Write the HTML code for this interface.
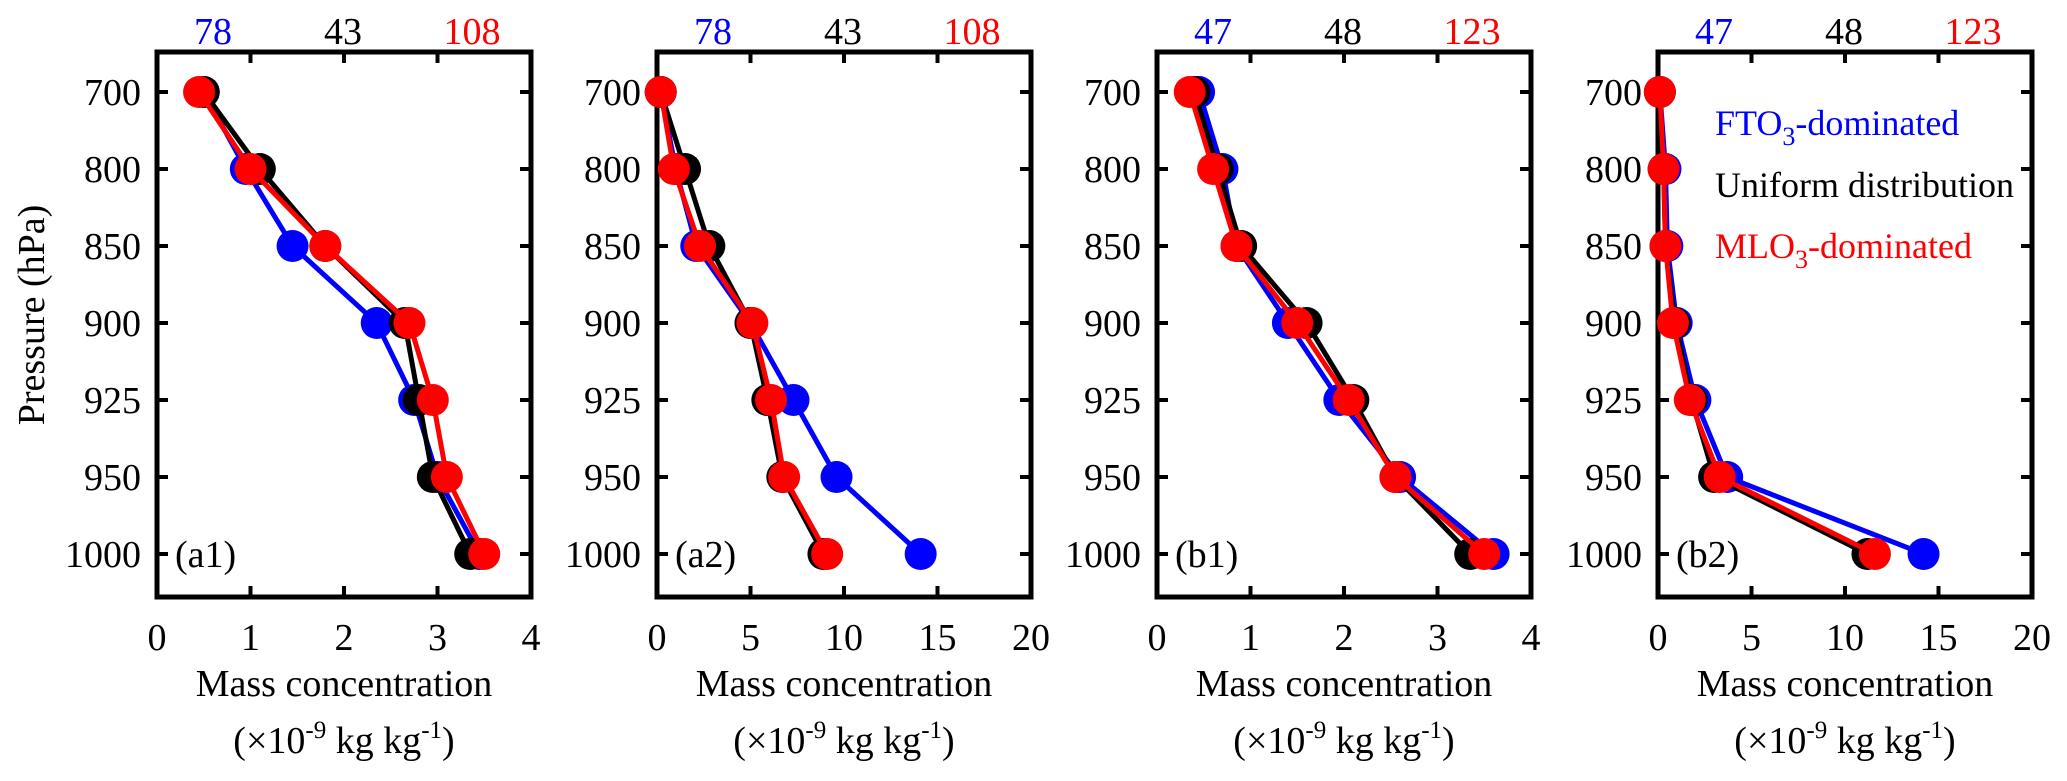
<!DOCTYPE html>
<html><head><meta charset="utf-8">
<style>
html,body{margin:0;padding:0;background:#fff;}
svg, svg text{font-family:"Liberation Serif","Noto Serif CJK SC","DejaVu Serif",serif !important;}
</style></head>
<body>
<svg id="chart" width="2067" height="776" viewBox="0 0 2067 776" xmlns="http://www.w3.org/2000/svg"></svg>
<script>
const pressureLevels = ["700","800","850","900","925","950","1000"];
const panelLabels = ["(a1)","(a2)","(b1)","(b2)"];
const panelXMax = [4,20,4,20];
const xTicksSmall = [0,1,2,3,4];
const xTicksLarge = [0,5,10,15,20];
const topLabelsA = ["78","43","108"];
const topLabelsB = ["47","48","123"];
const a1Blue  = [0.5,0.95,1.45,2.35,2.75,3.0,3.45];
const a1Black = [0.5,1.1,1.8,2.65,2.8,2.95,3.35];
const a1Red   = [0.45,1.0,1.8,2.7,2.95,3.1,3.5];
const a2Blue  = [0.2,1.0,2.1,5.0,7.3,9.6,14.1];
const a2Black = [0.2,1.5,2.8,5.0,5.9,6.7,8.9];
const a2Red   = [0.2,0.9,2.3,5.1,6.1,6.8,9.1];
const b1Blue  = [0.45,0.7,0.85,1.4,1.95,2.6,3.6];
const b1Black = [0.4,0.65,0.9,1.6,2.1,2.55,3.35];
const b1Red   = [0.35,0.6,0.85,1.5,2.05,2.55,3.5];
const b2Blue  = [0.1,0.4,0.5,1.0,2.0,3.7,14.2];
const b2Black = [0.1,0.3,0.4,0.9,1.8,3.0,11.2];
const b2Red   = [0.1,0.3,0.4,0.8,1.7,3.3,11.6];

const NS="http://www.w3.org/2000/svg";
const svg=document.getElementById('chart');
function mk(tag,attrs,parent){const e=document.createElementNS(NS,tag);for(const k in attrs)e.setAttribute(k,attrs[k]);(parent||svg).appendChild(e);return e;}

const panelLefts=[157,657,1157,1658];
const W=374, TOP=52, BOT=597;
const panelData=[[a1Blue,a1Black,a1Red],[a2Blue,a2Black,a2Red],[b1Blue,b1Black,b1Red],[b2Blue,b2Black,b2Red]];
const colors=["#0000ff","#000000","#ff0000"];
const seriesNames=["fto3-dominated","uniform-distribution","mlo3-dominated"];
function yPos(i){return 92+i*77;}

panelLefts.forEach((L,p)=>{
  const g=mk('g',{});
  
  
  const xmax=panelXMax[p];
  const xs=v=>L+v/xmax*W;
  const ticks=xmax===4?xTicksSmall:xTicksLarge;
  ticks.forEach((t,i)=>{
    const x=xs(t);
    if(i>0&&i<ticks.length-1){
      const tb=mk('line',{x1:x,x2:x,y1:BOT,y2:BOT-11,stroke:'#000','stroke-width':4},g);
      
      
      const tt=mk('line',{x1:x,x2:x,y1:TOP,y2:TOP+11,stroke:'#000','stroke-width':4},g);
      
      
    }
    const lab=mk('text',{x:x,y:650,'font-size':38,'text-anchor':'middle'},g);
    lab.textContent=t;
    
    
  });
  const tl=p<2?topLabelsA:topLabelsB;
  [56,186,315].forEach((dx,i)=>{
    const t=mk('text',{x:L+dx,y:44,'font-size':38,'text-anchor':'middle',fill:colors[i]},g);
    t.textContent=tl[i];
    
    
  });
  pressureLevels.forEach((pl,i)=>{
    const y=yPos(i);
    const a=mk('line',{x1:L,x2:L+11,y1:y,y2:y,stroke:'#000','stroke-width':4},g);
    
    
    const b=mk('line',{x1:L+W,x2:L+W-11,y1:y,y2:y,stroke:'#000','stroke-width':4},g);
    
    
    const t=mk('text',{x:L-16,y:y+13,'font-size':38,'text-anchor':'end'},g);
    t.textContent=pl;
    
    
  });
  const fr=mk('rect',{x:L,y:TOP,width:W,height:BOT-TOP,fill:'none',stroke:'#000','stroke-width':5},g);
  
  
  panelData[p].forEach((vals,s)=>{
    const pts=vals.map((v,i)=>xs(v)+','+yPos(i)).join(' ');
    const pl=mk('polyline',{points:pts,fill:'none',stroke:colors[s],'stroke-width':5},g);
    
    
    vals.forEach((v,i)=>{
      const c=mk('circle',{cx:xs(v),cy:yPos(i),r:16,fill:colors[s]},g);
      
      
    });
  });
  const pl=mk('text',{x:L+18,y:yPos(6)+13,'font-size':38},g);
  pl.textContent=panelLabels[p];
  
  
  const t1=mk('text',{x:L+W/2,y:696,'font-size':38,'text-anchor':'middle'},g);
  t1.textContent='Mass concentration';
  
  
  const t2=mk('text',{x:L+W/2,y:753,'font-size':38,'text-anchor':'middle'},g);
  t2.innerHTML='(×10<tspan dy="-15" font-size="25">-9</tspan><tspan dy="15"> kg kg</tspan><tspan dy="-15" font-size="25">-1</tspan><tspan dy="15">)</tspan>';
  
  
});

const yt=mk('text',{x:0,y:0,'font-size':38,'text-anchor':'middle',transform:'translate(44,315) rotate(-90)'});
yt.textContent='Pressure (hPa)';



const lg=mk('g',{});


const l1=mk('text',{x:1715,y:135,'font-size':36,fill:'#0000ff'},lg);
l1.innerHTML='FTO<tspan dy="10" font-size="26">3</tspan><tspan dy="-10">-dominated</tspan>';


const l2=mk('text',{x:1715,y:197,'font-size':36,fill:'#000'},lg);
l2.textContent='Uniform distribution';


const l3=mk('text',{x:1715,y:258,'font-size':36,fill:'#ff0000'},lg);
l3.innerHTML='MLO<tspan dy="10" font-size="26">3</tspan><tspan dy="-10">-dominated</tspan>';


</script>
</body></html>
